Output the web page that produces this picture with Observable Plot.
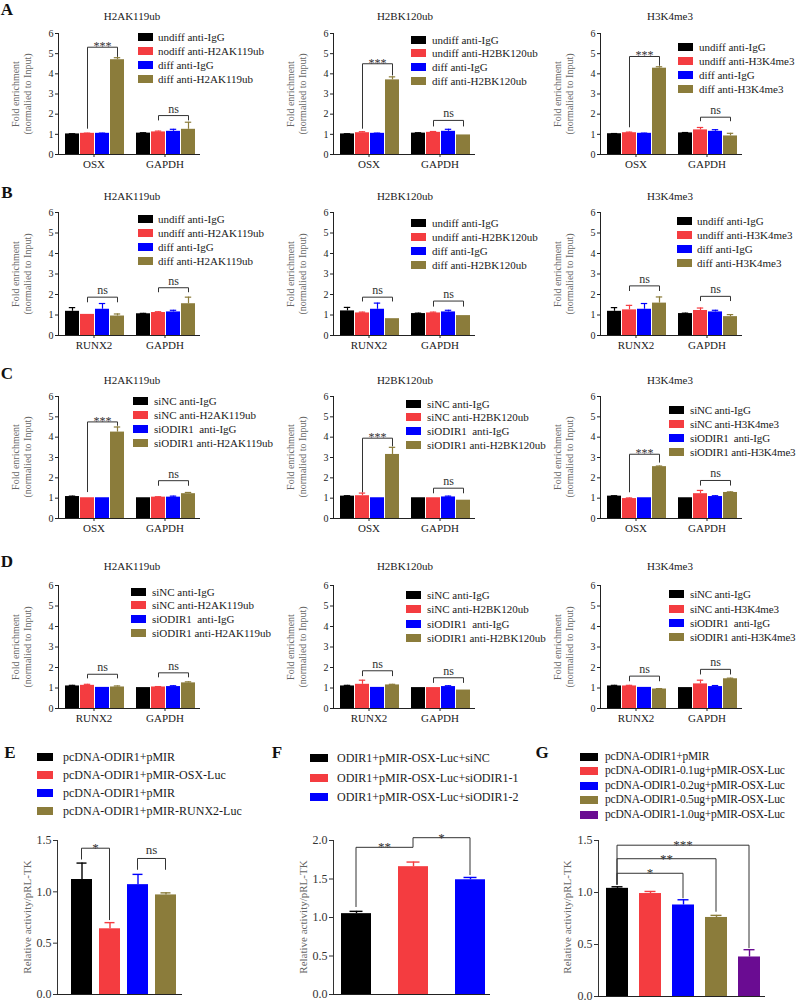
<!DOCTYPE html>
<html>
<head>
<meta charset="utf-8">
<script src="https://cdn.jsdelivr.net/npm/d3@7"></script>
<script src="https://cdn.jsdelivr.net/npm/@observablehq/plot@0.6"></script>
<style>
  html, body { margin: 0; padding: 0; background: #fff; }
  #fig { position: relative; width: 798px; height: 1002px; overflow: hidden; background: #fff;
         font-family: "Liberation Serif", "Times New Roman", serif; color: #1a1a1a; }
  .t { position: absolute; white-space: pre; }
  #fig svg { position: absolute; overflow: visible; }
  [aria-label^="fx-axis"] text { font-size: 11px; }
</style>
</head>
<body>
<div id="fig"></div>
<script>
// ---------------- DATA ----------------
const genesOSX = ["OSX", "GAPDH"];
const genesRUNX2 = ["RUNX2", "GAPDH"];
const histoneMarks = ["H2AK119ub", "H2BK120ub", "H3K4me3"];

const seriesA_H2AK = ["undiff anti-IgG", "nodiff anti-H2AK119ub", "diff anti-IgG", "diff anti-H2AK119ub"];
const seriesB_H2AK = ["undiff anti-IgG", "undiff anti-H2AK119ub", "diff anti-IgG", "diff anti-H2AK119ub"];
const seriesAB_H2BK = ["undiff anti-IgG", "undiff anti-H2BK120ub", "diff anti-IgG", "diff anti-H2BK120ub"];
const seriesAB_H3K4 = ["undiff anti-IgG", "undiff anti-H3K4me3", "diff anti-IgG", "diff anti-H3K4me3"];
const seriesCD_H2AK = ["siNC anti-IgG", "siNC anti-H2AK119ub", "siODIR1  anti-IgG", "siODIR1 anti-H2AK119ub"];
const seriesCD_H2BK = ["siNC anti-IgG", "siNC anti-H2BK120ub", "siODIR1  anti-IgG", "siODIR1 anti-H2BK120ub"];
const seriesCD_H3K4 = ["siNC anti-IgG", "siNC anti-H3K4me3", "siODIR1  anti-IgG", "siODIR1 anti-H3K4me3"];

// mean[gene][series], err[gene][series]; sig: [gene, label, bracketTop, leftLegEnd, rightLegEnd]
const A1_mean = [[1.02, 1.05, 1.05, 4.70], [1.06, 1.12, 1.15, 1.25]];
const A1_err  = [[0.01, 0.01, 0.01, 0.10], [0.02, 0.04, 0.10, 0.35]];
const A1_sig  = [["OSX", "***", 5.32, 1.28, 4.84], ["GAPDH", "ns", 1.93, 1.69, 1.69]];

const A2_mean = [[1.02, 1.08, 1.05, 3.70], [1.06, 1.10, 1.15, 0.97]];
const A2_err  = [[0.01, 0.05, 0.01, 0.15], [0.02, 0.04, 0.10, 0.00]];
const A2_sig  = [["OSX", "***", 4.50, 1.28, 3.92], ["GAPDH", "ns", 1.69, 1.39, 1.39]];

const A3_mean = [[1.03, 1.08, 1.05, 4.28], [1.07, 1.22, 1.15, 0.92]];
const A3_err  = [[0.01, 0.03, 0.01, 0.07], [0.02, 0.12, 0.08, 0.13]];
const A3_sig  = [["OSX", "***", 4.86, 1.35, 4.40], ["GAPDH", "ns", 1.85, 1.65, 1.65]];

const B1_mean = [[1.18, 1.03, 1.28, 0.95], [1.06, 1.12, 1.15, 1.55]];
const B1_err  = [[0.18, 0.00, 0.28, 0.10], [0.02, 0.04, 0.08, 0.32]];
const B1_sig  = [["RUNX2", "ns", 1.87, 1.62, 1.62], ["GAPDH", "ns", 2.33, 2.11, 2.11]];

const B2_mean = [[1.20, 1.10, 1.28, 0.82], [1.07, 1.10, 1.15, 0.97]];
const B2_err  = [[0.17, 0.04, 0.30, 0.00], [0.02, 0.04, 0.08, 0.00]];
const B2_sig  = [["RUNX2", "ns", 1.87, 1.66, 1.66], ["GAPDH", "ns", 1.68, 1.41, 1.41]];

const B3_mean = [[1.18, 1.25, 1.28, 1.58], [1.07, 1.22, 1.15, 0.92]];
const B3_err  = [[0.18, 0.22, 0.28, 0.30], [0.02, 0.12, 0.08, 0.10]];
const B3_sig  = [["RUNX2", "ns", 2.42, 2.17, 2.17], ["GAPDH", "ns", 1.91, 1.68, 1.68]];

const C1_mean = [[1.08, 1.02, 1.02, 4.25], [1.02, 1.05, 1.05, 1.22]];
const C1_err  = [[0.02, 0.00, 0.00, 0.25], [0.00, 0.02, 0.05, 0.06]];
const C1_sig  = [["OSX", "***", 4.75, 1.30, 4.56], ["GAPDH", "ns", 1.86, 1.61, 1.61]];

const C2_mean = [[1.10, 1.12, 1.02, 3.15], [1.02, 1.02, 1.06, 0.90]];
const C2_err  = [[0.02, 0.13, 0.00, 0.35], [0.00, 0.00, 0.04, 0.00]];
const C2_sig  = [["OSX", "***", 3.95, 1.29, 3.55], ["GAPDH", "ns", 1.49, 1.24, 1.24]];

const C3_mean = [[1.10, 0.98, 1.02, 2.55], [1.02, 1.22, 1.08, 1.28]];
const C3_err  = [[0.02, 0.03, 0.00, 0.03], [0.00, 0.16, 0.04, 0.03]];
const C3_sig  = [["OSX", "***", 3.16, 1.29, 2.75], ["GAPDH", "ns", 1.87, 1.62, 1.62]];

const D1_mean = [[1.10, 1.13, 1.03, 1.05], [1.02, 1.05, 1.07, 1.25]];
const D1_err  = [[0.03, 0.05, 0.00, 0.05], [0.00, 0.02, 0.04, 0.05]];
const D1_sig  = [["RUNX2", "ns", 1.67, 1.47, 1.47], ["GAPDH", "ns", 1.74, 1.52, 1.52]];

const D2_mean = [[1.10, 1.18, 1.03, 1.15], [1.02, 1.02, 1.07, 0.90]];
const D2_err  = [[0.03, 0.20, 0.00, 0.03], [0.00, 0.00, 0.04, 0.00]];
const D2_sig  = [["RUNX2", "ns", 1.84, 1.58, 1.58], ["GAPDH", "ns", 1.50, 1.25, 1.25]];

const D3_mean = [[1.10, 1.10, 1.03, 0.95], [1.02, 1.20, 1.07, 1.45]];
const D3_err  = [[0.03, 0.03, 0.00, 0.02], [0.00, 0.18, 0.05, 0.03]];
const D3_sig  = [["RUNX2", "ns", 1.58, 1.33, 1.33], ["GAPDH", "ns", 1.91, 1.66, 1.66]];

// Luciferase panels: sig = [fromBar, toBar, label, bracketTop, leftLegEnd, rightLegEnd]
const E_labels = ["pcDNA-ODIR1+pMIR", "pcDNA-ODIR1+pMIR-OSX-Luc", "pcDNA-ODIR1+pMIR", "pcDNA-ODIR1+pMIR-RUNX2-Luc"];
const E_mean = [1.12, 0.64, 1.07, 0.97];
const E_err  = [0.16, 0.06, 0.10, 0.02];
const E_sig  = [[0, 1, "*", 1.42, 1.31, 0.72], [2, 3, "ns", 1.32, 1.21, 1.21]];

const F_labels = ["ODIR1+pMIR-OSX-Luc+siNC", "ODIR1+pMIR-OSX-Luc+siODIR1-1", "ODIR1+pMIR-OSX-Luc+siODIR1-2"];
const F_mean = [1.05, 1.66, 1.49];
const F_err  = [0.03, 0.06, 0.03];
const F_sig  = [[0, 1, "**", 1.905, 1.13, 1.905], [1, 2, "*", 2.03, 1.905, 1.545]];

const G_labels = ["pcDNA-ODIR1+pMIR", "pcDNA-ODIR1-0.1ug+pMIR-OSX-Luc", "pcDNA-ODIR1-0.2ug+pMIR-OSX-Luc", "pcDNA-ODIR1-0.5ug+pMIR-OSX-Luc", "pcDNA-ODIR1-1.0ug+pMIR-OSX-Luc"];
const G_mean = [1.04, 0.99, 0.88, 0.76, 0.38];
const G_err  = [0.015, 0.02, 0.05, 0.02, 0.07];
const G_sig  = [[0, 2, "*", 1.18, 1.07, 0.94], [0, 3, "**", 1.32, 1.07, 0.81], [0, 4, "***", 1.45, 1.07, 0.46]];

const yLabelChIP = "Fold enrichment\n(normalied to Input)";
const yLabelLuc = "Relative activity/pRL-TK";

// ---------------- STYLE / LAYOUT ----------------
const FONT = '"Liberation Serif", "Times New Roman", serif';
const C4 = ["#000000", "#f43c40", "#0000fe", "#8b7c3b"];
const C5 = ["#000000", "#f43c40", "#0000fe", "#8b7c3b", "#6a0c92"];
const fig = document.getElementById("fig");

function place(el, left, top) {
  el.style.position = "absolute";
  el.style.left = left + "px";
  el.style.top = top + "px";
  fig.appendChild(el);
}
function text(str, x, y, o = {}) {
  const d = document.createElement("div");
  d.className = "t";
  d.textContent = str;
  const fs = o.size || 11;
  Object.assign(d.style, {
    left: x + "px", top: y + "px", fontSize: fs + "px",
    lineHeight: (o.lh || fs + 2) + "px", color: o.color || "#1a1a1a",
    fontWeight: o.weight || "normal", textAlign: "center"
  });
  if (o.spacing) d.style.letterSpacing = o.spacing + "px";
  let tf = o.anchor === "start" ? "translate(0,-50%)" : "translate(-50%,-50%)";
  if (o.rotate) tf += " rotate(-90deg)";
  d.style.transform = tf;
  fig.appendChild(d);
}
function legend(labels, colors, sqX, txX, ys, sw, sh, fs, spacing) {
  labels.forEach((lab, k) => {
    const s = document.createElement("div");
    Object.assign(s.style, {position: "absolute", left: sqX + "px", top: (ys[k] - sh / 2) + "px",
      width: sw + "px", height: sh + "px", background: colors[k]});
    fig.appendChild(s);
    text(lab, txX, ys[k], {size: fs, anchor: "start", spacing});
  });
}

function groupPanel(cfg) {
  const {axisX, y6, y0, genes, mean, err, sig} = cfg;
  const ml = 26, mr = 6, mt = 12, mb = 26, W = 142;
  const rows = [];
  genes.forEach((g, gi) => mean[gi].forEach((v, i) => rows.push({gene: g, i, v, e: err[gi][i]})));
  const errRows = rows.filter(d => d.e > 0);
  const sigRows = sig.map(([gene, label, top, lb, rb]) => ({gene, label, top, lb, rb, a: 1, m: 2, b: 3}));
  const svg = Plot.plot({
    width: ml + W + mr, height: mt + (y0 - y6) + mb,
    marginLeft: ml, marginRight: mr, marginTop: mt, marginBottom: mb,
    style: {fontFamily: FONT, fontSize: "10px", color: "#222", background: "none", overflow: "visible"},
    fx: {domain: genes, padding: 0, label: null, axis: "bottom", tickSize: 3, tickPadding: 3},
    x: {domain: [0, 1, 2, 3], axis: null, paddingInner: 0.06, paddingOuter: 0.3, align: 0.6},
    y: {domain: [0, 6], ticks: 6, label: null, line: true, tickSize: 3, tickPadding: 2},
    color: {type: "ordinal", domain: [0, 1, 2, 3], range: C4},
    marks: [
      Plot.barY(rows, {fx: "gene", x: "i", y: "v", fill: "i"}),
      Plot.ruleX(errRows, {fx: "gene", x: "i", y1: "v", y2: d => d.v + d.e, stroke: "i", strokeWidth: 1.2}),
      Plot.tickY(errRows, {fx: "gene", x: "i", y: d => d.v + d.e, stroke: "i", strokeWidth: 1.2, inset: 3.8}),
      Plot.ruleY([0], {stroke: "#222"}),
      Plot.link(sigRows, {fx: "gene", x1: "a", x2: "b", y1: "top", y2: "top", stroke: "#333"}),
      Plot.link(sigRows, {fx: "gene", x1: "a", x2: "a", y1: "top", y2: "lb", stroke: "#333"}),
      Plot.link(sigRows, {fx: "gene", x1: "b", x2: "b", y1: "top", y2: "rb", stroke: "#333"}),
      Plot.text(sigRows.filter(d => d.label !== "ns"), {fx: "gene", x: "m", y: "top", text: "label",
        lineAnchor: "bottom", dy: 3, fontSize: 12, fill: "#333"}),
      Plot.text(sigRows.filter(d => d.label === "ns"), {fx: "gene", x: "m", y: "top", text: "label",
        lineAnchor: "bottom", dy: -3, fontSize: 12, fill: "#333"})
    ]
  });
  place(svg, axisX - ml, y6 - mt);
}

function bracketMark(sig, fs) {
  return (index, scales) => {
    const x = scales.x, y = scales.y, h = x.bandwidth() / 2;
    const g = d3.create("svg:g");
    for (const [a, b, label, top, lb, rb] of sig) {
      const xa = x(a) + h, xb = x(b) + h, yt = y(top);
      g.append("path").attr("fill", "none").attr("stroke", "#333").attr("stroke-width", 1)
        .attr("d", `M${xa},${y(lb)}V${yt}H${xb}V${y(rb)}`);
      g.append("text").attr("x", (xa + xb) / 2).attr("y", yt + (label === "ns" ? -4 : 4))
        .attr("text-anchor", "middle").attr("font-size", fs).attr("fill", "#333").text(label);
    }
    return g.node();
  };
}

function lucPanel(cfg) {
  const {axisX, yTop, y0, yMax, ticks, mean, err, sig, colors, W, pi, po, align, cap} = cfg;
  const ml = 40, mr = 6, mt = 12, mb = 6;
  const idx = mean.map((_, i) => i);
  const rows = mean.map((v, i) => ({i, v, e: err[i]}));
  const svg = Plot.plot({
    width: ml + W + mr, height: mt + (y0 - yTop) + mb,
    marginLeft: ml, marginRight: mr, marginTop: mt, marginBottom: mb,
    style: {fontFamily: FONT, fontSize: "12px", color: "#333", background: "none", overflow: "visible"},
    x: {domain: idx, axis: null, paddingInner: pi, paddingOuter: po, align},
    y: {domain: [0, yMax], ticks, tickFormat: ".1f", label: null, line: true, tickSize: 4, tickPadding: 2},
    color: {type: "ordinal", domain: idx, range: colors},
    marks: [
      Plot.barY(rows, {x: "i", y: "v", fill: "i"}),
      Plot.ruleX(rows, {x: "i", y1: "v", y2: d => d.v + d.e, stroke: "i", strokeWidth: 1.4}),
      Plot.tickY(rows, {x: "i", y: d => d.v + d.e, stroke: "i", strokeWidth: 1.4, inset: cap}),
      Plot.ruleY([0], {stroke: "#222"}),
      bracketMark(sig, 13)
    ]
  });
  place(svg, axisX - ml, yTop - mt);
}

// ---------------- BUILD ----------------
const colX = [58, 333, 600];
const colTitleX = [132, 405, 670];
const rowGeom = {A: [33, 154, 16], B: [212, 335, 196], C: [396, 518, 380], D: [585, 708, 566]};

const panels = [
  {row: "A", col: 0, genes: genesOSX, series: seriesA_H2AK, mean: A1_mean, err: A1_err, sig: A1_sig, leg: [138, 158, [37, 51, 65, 79]]},
  {row: "A", col: 1, genes: genesOSX, series: seriesAB_H2BK, mean: A2_mean, err: A2_err, sig: A2_sig, leg: [411, 432, [40, 53, 67, 81]]},
  {row: "A", col: 2, genes: genesOSX, series: seriesAB_H3K4, mean: A3_mean, err: A3_err, sig: A3_sig, leg: [678, 699, [47, 61, 75, 89]]},
  {row: "B", col: 0, genes: genesRUNX2, series: seriesB_H2AK, mean: B1_mean, err: B1_err, sig: B1_sig, leg: [138, 158, [219, 233, 247, 261]]},
  {row: "B", col: 1, genes: genesRUNX2, series: seriesAB_H2BK, mean: B2_mean, err: B2_err, sig: B2_sig, leg: [411, 432, [223, 237, 251, 265]]},
  {row: "B", col: 2, genes: genesRUNX2, series: seriesAB_H3K4, mean: B3_mean, err: B3_err, sig: B3_sig, leg: [677, 697, [221, 235, 249, 263]]},
  {row: "C", col: 0, genes: genesOSX, series: seriesCD_H2AK, mean: C1_mean, err: C1_err, sig: C1_sig, leg: [133, 154, [401, 415, 429, 443]]},
  {row: "C", col: 1, genes: genesOSX, series: seriesCD_H2BK, mean: C2_mean, err: C2_err, sig: C2_sig, leg: [406, 427, [404, 417, 431, 445]]},
  {row: "C", col: 2, genes: genesOSX, series: seriesCD_H3K4, mean: C3_mean, err: C3_err, sig: C3_sig, leg: [669, 690, [410, 424, 438, 452]]},
  {row: "D", col: 0, genes: genesRUNX2, series: seriesCD_H2AK, mean: D1_mean, err: D1_err, sig: D1_sig, leg: [131, 152, [592, 605, 619, 633]]},
  {row: "D", col: 1, genes: genesRUNX2, series: seriesCD_H2BK, mean: D2_mean, err: D2_err, sig: D2_sig, leg: [406, 427, [595, 609, 624, 638]]},
  {row: "D", col: 2, genes: genesRUNX2, series: seriesCD_H3K4, mean: D3_mean, err: D3_err, sig: D3_sig, leg: [669, 690, [594, 609, 623, 637]]}
];

for (const p of panels) {
  const [y6, y0, ty] = rowGeom[p.row];
  const ax = colX[p.col];
  groupPanel({axisX: ax, y6, y0, genes: p.genes, mean: p.mean, err: p.err, sig: p.sig});
  text(histoneMarks[p.col], colTitleX[p.col], ty, {size: 11});
  text(yLabelChIP, ax - 36, (y6 + y0) / 2, {size: 10, lh: 12, rotate: true, color: "#666"});
  legend(p.series, C4, p.leg[0], p.leg[1], p.leg[2], 15, 8, 11, p.col === 2 && p.row !== "A" && p.row !== "B" ? -0.15 : 0);
}

lucPanel({axisX: 57, yTop: 840, y0: 994, yMax: 1.5, ticks: 3, mean: E_mean, err: E_err, sig: E_sig,
  colors: C4, W: 125, pi: 0.25, po: 0.35, align: 0.7, cap: 5.5});
lucPanel({axisX: 333, yTop: 840, y0: 994, yMax: 2.0, ticks: 4, mean: F_mean, err: F_err, sig: F_sig,
  colors: C4, W: 157, pi: 0.47, po: 0.112, align: 0.62, cap: 8.5});
lucPanel({axisX: 598, yTop: 840, y0: 996, yMax: 1.5, ticks: 3, mean: G_mean, err: G_err, sig: G_sig,
  colors: C5, W: 167, pi: 0.32, po: 0.15, align: 0.6, cap: 5.5});

legend(E_labels, C4, 37, 63, [757, 775, 793, 811], 16, 8, 12);
legend(F_labels, C4, 310, 337, [758, 778, 797], 18, 8, 12);
legend(G_labels, C5, 580, 605, [757, 771, 786, 800, 815], 18, 8, 11.5, -0.2);

text(yLabelLuc, 27, 917, {size: 11, rotate: true, color: "#666"});
text(yLabelLuc, 303, 917, {size: 11, rotate: true, color: "#666"});
text(yLabelLuc, 567, 917, {size: 11, rotate: true, color: "#666"});

const letters = [["A", 7, 9], ["B", 7, 192], ["C", 7, 373], ["D", 7, 561], ["E", 10, 752], ["F", 277, 752], ["G", 542, 752]];
for (const [l, x, y] of letters) text(l, x, y, {size: 17, weight: "bold", color: "#111"});
</script>
</body>
</html>
